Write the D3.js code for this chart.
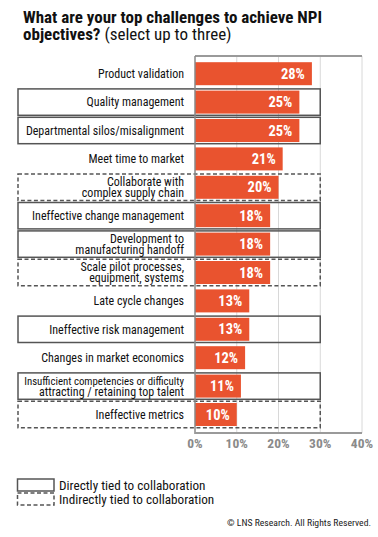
<!DOCTYPE html>
<html><head><meta charset="utf-8">
<script src="https://cdn.jsdelivr.net/npm/d3@7"></script>
<style>
body{margin:0;background:#fff;}
svg{display:block;}
text{font-family:Roboto,sans-serif;font-stretch:condensed;}
</style></head>
<body>
<svg id="c" width="378" height="537"></svg>
<script>
const categories = [
  ["Product validation"],
  ["Quality management"],
  ["Departmental silos/misalignment"],
  ["Meet time to market"],
  ["Collaborate with", "complex supply chain"],
  ["Ineffective change management"],
  ["Development to", "manufacturing handoff"],
  ["Scale pilot processes,", "equipment, systems"],
  ["Late cycle changes"],
  ["Ineffective risk management"],
  ["Changes in market economics"],
  ["Insufficient competencies or difficulty", "attracting / retaining top talent"],
  ["Ineffective metrics"]
];
const values = [28, 25, 25, 21, 20, 18, 18, 18, 13, 13, 12, 11, 10];
// "direct" = solid box, "indirect" = dashed box, "" = none
const collaboration = ["", "direct", "direct", "", "indirect", "direct", "direct", "indirect", "", "direct", "", "direct", "indirect"];
const ticks = [0, 10, 20, 30, 40];
const legendLabels = ["Directly tied to collaboration", "Indirectly tied to collaboration"];

const svg = d3.select("#c");
const x = d3.scaleLinear().domain([0, 40]).range([195, 362]);
const y = d3.scaleBand().domain(d3.range(categories.length)).range([59.5, 428.7]).paddingInner(0.19).paddingOuter(0.095);
const step = y.step();
const bandTop = i => y(i) - y.paddingInner() * step / 2;

// title
const title = svg.append("text").attr("x", 23).attr("y", 23).attr("font-size", 17).attr("font-weight", "bold").attr("fill", "#111");
title.text("What are your top challenges to achieve NPI");
const t2 = svg.append("text").attr("x", 23).attr("y", 40).attr("font-size", 17).attr("fill", "#111");
t2.append("tspan").attr("font-weight", "bold").text("objectives?");
t2.append("tspan").text(" (select up to three)");

// gridlines
svg.append("g").selectAll("line").data(ticks.slice(1)).join("line")
  .attr("x1", d => x(d)).attr("x2", d => x(d)).attr("y1", 56).attr("y2", 433)
  .attr("stroke", "#d8d8d8").attr("stroke-width", 1);

// top frame line
svg.append("line").attr("x1", x(0)).attr("x2", x(40)).attr("y1", 56).attr("y2", 56).attr("stroke", "#9a9a9a").attr("stroke-width", 2);

// bars
svg.append("g").selectAll("rect").data(values).join("rect")
  .attr("x", x(0)).attr("y", (d, i) => y(i)).attr("width", d => x(d) - x(0)).attr("height", y.bandwidth())
  .attr("fill", "#E9532F");

// value labels
svg.append("g").selectAll("text").data(values).join("text")
  .attr("x", d => x(d) - 7).attr("y", (d, i) => y(i) + y.bandwidth() / 2 + 5)
  .attr("text-anchor", "end").attr("font-size", 14.5).attr("font-weight", "bold").attr("fill", "#fff")
  .text(d => d + "%");

// boxes
svg.append("g").selectAll("rect").data(collaboration.map((c, i) => ({c, i})).filter(d => d.c))
  .join("rect")
  .attr("x", 18).attr("y", d => bandTop(d.i) + 1).attr("width", x(30) - 18).attr("height", step - 2)
  .attr("fill", "none").attr("stroke", "#555").attr("stroke-width", 1.5)
  .attr("stroke-dasharray", d => d.c === "indirect" ? "4,2.5" : null);

// category labels
const maxW = 160;
const lab = svg.append("g").selectAll("text").data(categories).join("text")
  .attr("text-anchor", "end").attr("font-size", 12).attr("fill", "#111")
  .attr("transform", (d, i) => `translate(184,${y(i) + y.bandwidth() / 2})`);
lab.each(function(d) {
  const n = d.length;
  d3.select(this).selectAll("tspan").data(d).join("tspan")
    .attr("x", 0).attr("y", (s, j) => (j - (n - 1) / 2) * 11.2 + 4.3).text(s => s)
    .each(function() {
      const w = this.getComputedTextLength();
      if (w > maxW) d3.select(this).attr("font-size", 12 * maxW / w);
    });
});

// axes lines
svg.append("line").attr("x1", x(0)).attr("x2", x(0)).attr("y1", 56).attr("y2", 434).attr("stroke", "#888").attr("stroke-width", 1.5);
svg.append("line").attr("x1", x(0)).attr("x2", x(40)).attr("y1", 433).attr("y2", 433).attr("stroke", "#9a9a9a").attr("stroke-width", 2);

// tick labels
svg.append("g").selectAll("text").data(ticks).join("text")
  .attr("x", d => x(d)).attr("y", 448).attr("text-anchor", "middle")
  .attr("font-size", 13.5).attr("font-weight", "bold").attr("fill", "#8a8a8a").text(d => d + "%");

// legend
const lg = svg.append("g");
lg.append("rect").attr("x", 17.5).attr("y", 479).attr("width", 36.5).attr("height", 12).attr("fill", "none").attr("stroke", "#555").attr("stroke-width", 1.5);
lg.append("rect").attr("x", 17.5).attr("y", 493).attr("width", 36.5).attr("height", 12).attr("fill", "none").attr("stroke", "#555").attr("stroke-width", 1.5).attr("stroke-dasharray", "4,2.5");
lg.selectAll("text").data(legendLabels).join("text")
  .attr("x", 59).attr("y", (d, i) => 489.5 + i * 14).attr("font-size", 13.2).attr("fill", "#111").text(d => d);

svg.append("text").attr("x", 371).attr("y", 526).attr("text-anchor", "end").attr("font-size", 9.7).attr("fill", "#222").text("© LNS Research. All Rights Reserved.");
</script>
</body></html>
